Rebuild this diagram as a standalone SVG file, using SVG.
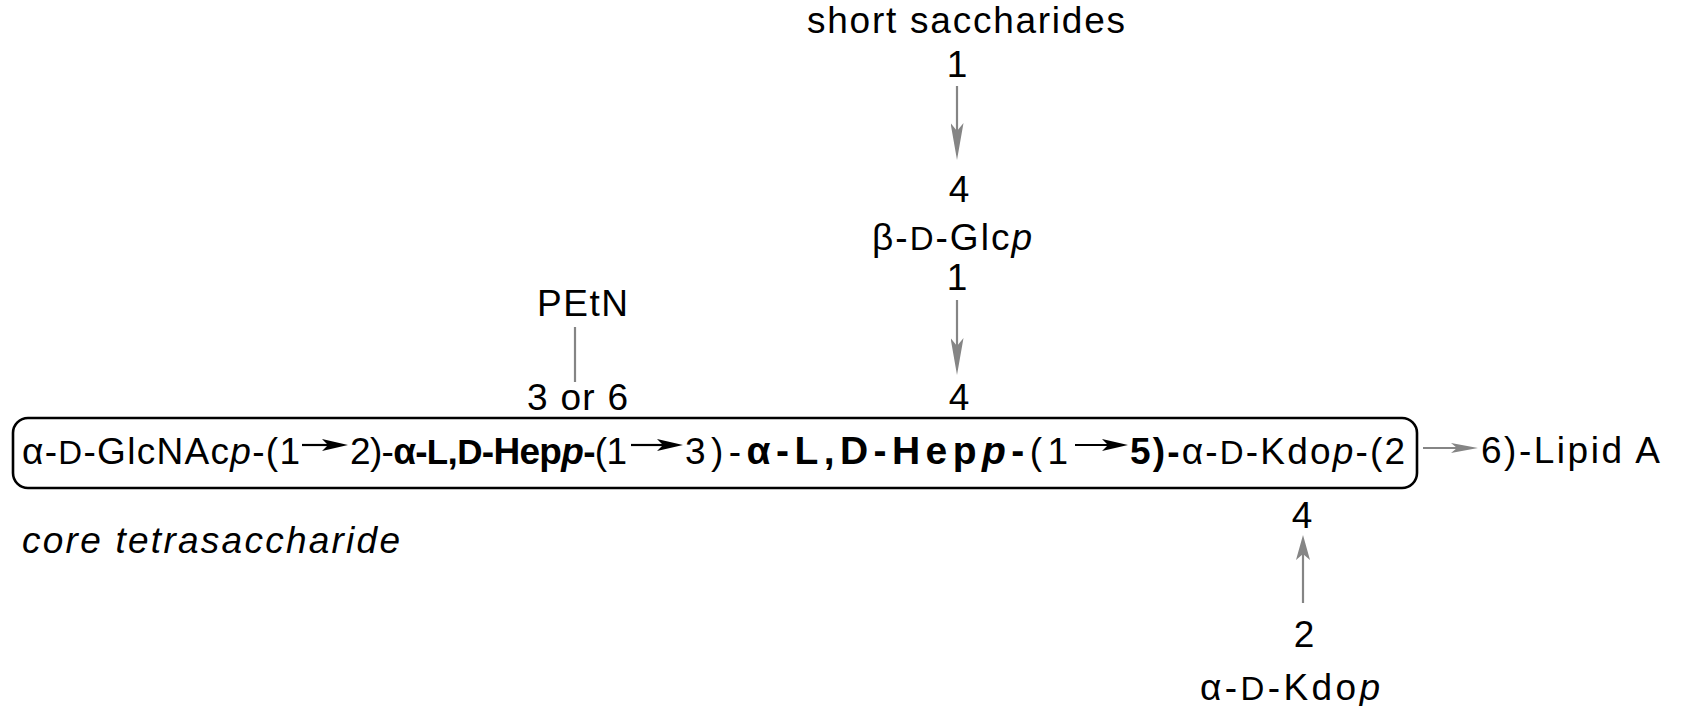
<svg xmlns="http://www.w3.org/2000/svg" width="1698" height="706" viewBox="0 0 1698 706">
<style>
text{font-family:"Liberation Sans",Arial,sans-serif;font-size:37px;fill:#000}
.sc{font-size:33px}
.bsc{font-size:35px}
.b{font-weight:bold}
.big{font-size:39px}
.i{font-style:italic}
.c{text-anchor:middle}
.blk{stroke:#000;stroke-width:2.2;fill:none}
.gry{stroke:#858585;stroke-width:2.2;fill:none}
</style>
<defs>
<marker id="hb" markerUnits="userSpaceOnUse" markerWidth="26" markerHeight="13" refX="6" refY="6.5" orient="auto"><path d="M0,0.5 L26,6.5 L0,12.5 L6,6.5 Z" fill="#000"/></marker>
<marker id="hgl" markerUnits="userSpaceOnUse" markerWidth="37" markerHeight="13" refX="8" refY="6.5" orient="auto"><path d="M0,0 L37,6.5 L0,13 L8,6.5 Z" fill="#858585"/></marker>
<marker id="hgs" markerUnits="userSpaceOnUse" markerWidth="25" markerHeight="14" refX="6" refY="7" orient="auto"><path d="M0,0 L25,7 L0,14 L6,7 Z" fill="#858585"/></marker>
<marker id="hgt" markerUnits="userSpaceOnUse" markerWidth="27" markerHeight="11" refX="6" refY="5.5" orient="auto"><path d="M0,0.5 L27,5.5 L0,10.5 L6,5.5 Z" fill="#858585"/></marker>
</defs>
<rect width="1698" height="706" fill="#fff"/>

<g id="short-saccharides">
<text x="807" y="33" textLength="318" lengthAdjust="spacing">short saccharides</text>
<text class="c" x="957" y="77">1</text>
</g>

<g id="glc">
<text class="c" x="959" y="202">4</text>
<text x="872" y="250" textLength="160" lengthAdjust="spacing">β-<tspan class="sc">D</tspan>-Glc<tspan class="i">p</tspan></text>
<text class="c" x="957" y="290">1</text>
</g>

<g id="petn">
<text x="537" y="316" textLength="91" lengthAdjust="spacing">PEtN</text>
</g>

<g id="core">
<rect x="13" y="418" width="1404" height="70" rx="15" ry="15" fill="none" stroke="#000" stroke-width="2.6"/>
<text x="527" y="410" textLength="101" lengthAdjust="spacing">3 or 6</text>
<text class="c" x="959" y="410">4</text>
<text x="22" y="464" textLength="278" lengthAdjust="spacing">α-<tspan class="sc">D</tspan>-GlcNAc<tspan class="i">p</tspan>-(1</text>
<line class="blk" x1="302" y1="445" x2="328" y2="445" marker-end="url(#hb)"/>
<text x="350" y="464" textLength="277" lengthAdjust="spacing">2)-<tspan class="b">α-<tspan class="bsc">L</tspan>,<tspan class="bsc">D</tspan>-Hep<tspan class="i">p</tspan>-</tspan>(1</text>
<line class="blk" x1="631" y1="445" x2="663" y2="445" marker-end="url(#hb)"/>
<text x="685" y="464" textLength="383" lengthAdjust="spacing">3)-<tspan class="b big">α-L,D-Hep<tspan class="i">p</tspan>-</tspan>(1</text>
<line class="blk" x1="1075" y1="445" x2="1108" y2="445" marker-end="url(#hb)"/>
<text x="1130" y="464" textLength="275" lengthAdjust="spacing"><tspan class="b">5)-</tspan>α-<tspan class="sc">D</tspan>-Kdo<tspan class="i">p</tspan>-(2</text>
<text class="c" x="1302" y="528">4</text>
</g>

<g id="core-label">
<text class="i" x="22" y="553" textLength="378" lengthAdjust="spacing">core tetrasaccharide</text>
</g>

<g id="lipid-a">
<text x="1481" y="463" textLength="179" lengthAdjust="spacing">6)-Lipid A</text>
</g>

<g id="kdo2">
<text class="c" x="1304" y="647">2</text>
<text x="1200" y="700" textLength="180" lengthAdjust="spacing">α-<tspan class="sc">D</tspan>-Kdo<tspan class="i">p</tspan></text>
</g>

<g id="connectors">
<line class="gry" x1="957" y1="86" x2="957" y2="131" marker-end="url(#hgl)"/>
<line class="gry" x1="957" y1="300" x2="957" y2="346" marker-end="url(#hgl)"/>
<line class="gry" x1="575" y1="327" x2="575" y2="382" stroke-width="1.6"/>
<line class="gry" x1="1423" y1="448" x2="1457" y2="448" marker-end="url(#hgt)"/>
<line class="gry" x1="1303" y1="603" x2="1303" y2="554" marker-end="url(#hgs)"/>
</g>
</svg>
